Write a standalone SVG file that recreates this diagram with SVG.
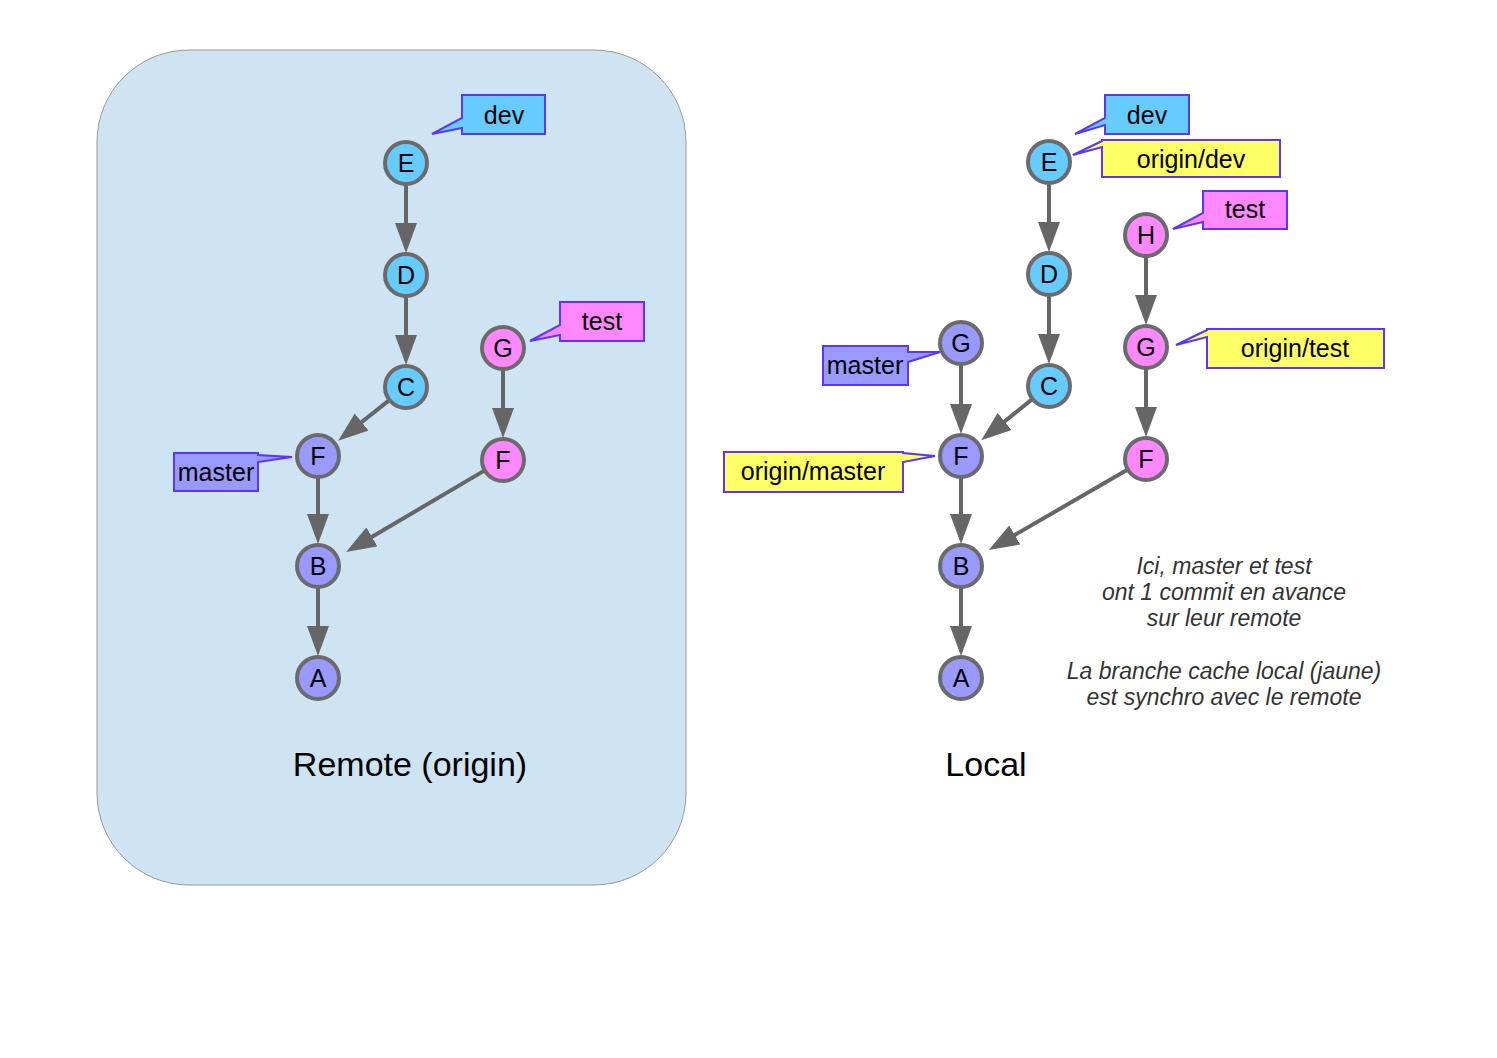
<svg xmlns="http://www.w3.org/2000/svg" width="1497" height="1058" viewBox="0 0 1497 1058">
<style>
.n circle{stroke:#6b6b6b;stroke-width:4}
.b{fill:#66ccff}.p{fill:#9999ff}.k{fill:#ff88ff}.y{fill:#ffff66}
.n text{font-family:"Liberation Sans",Arial,sans-serif;font-size:25px;text-anchor:middle;fill:#000}
.lb path{stroke:#5a36ff;stroke-width:2;stroke-linejoin:miter}
.lb text{font-family:"Liberation Sans",Arial,sans-serif;font-size:25px;text-anchor:middle;fill:#000}
.e line{stroke:#666;stroke-width:4;marker-end:url(#ah)}
.t{font-family:"Liberation Sans",Arial,sans-serif;font-size:34px;text-anchor:middle;fill:#000}
.note{font-family:"Liberation Sans",Arial,sans-serif;font-size:23px;font-style:italic;text-anchor:middle;fill:#333}
</style>
<defs>
<marker id="ah" markerUnits="userSpaceOnUse" markerWidth="30" markerHeight="22" refX="20" refY="11" orient="auto" viewBox="0 0 30 22">
<path d="M0,0 L30,11 L0,22 z" fill="#666"/>
</marker>
</defs>
<rect id="remote-panel" x="97" y="50" width="589" height="835" rx="92" ry="92" fill="#cfe4f3" stroke="#999" stroke-width="1"/>
<g id="connectors" class="e">
<line x1="406" y1="185" x2="406" y2="243"/>
<line x1="406" y1="297" x2="406" y2="355"/>
<line x1="388.7" y1="400.6" x2="346" y2="434.5"/>
<line x1="318" y1="478" x2="318" y2="534"/>
<line x1="318" y1="588" x2="318" y2="646"/>
<line x1="503" y1="370" x2="503" y2="428"/>
<line x1="483.9" y1="470.9" x2="354.7" y2="547"/>
<line x1="1049" y1="184" x2="1049" y2="242"/>
<line x1="1049" y1="296" x2="1049" y2="354"/>
<line x1="1031.7" y1="399.6" x2="989" y2="434"/>
<line x1="961" y1="365" x2="961" y2="424"/>
<line x1="961" y1="478" x2="961" y2="534"/>
<line x1="961" y1="588" x2="961" y2="646"/>
<line x1="1146" y1="257" x2="1146" y2="315"/>
<line x1="1146" y1="369" x2="1146" y2="427"/>
<line x1="1126.9" y1="470" x2="997.4" y2="545"/>
</g>
<g id="r-E" class="n"><circle class="b" cx="406" cy="163" r="21"/><text x="406" y="172">E</text></g>
<g id="r-D" class="n"><circle class="b" cx="406" cy="275" r="21"/><text x="406" y="284">D</text></g>
<g id="r-C" class="n"><circle class="b" cx="406" cy="387" r="21"/><text x="406" y="396">C</text></g>
<g id="r-F" class="n"><circle class="p" cx="318" cy="456" r="21"/><text x="318" y="465">F</text></g>
<g id="r-B" class="n"><circle class="p" cx="318" cy="566" r="21"/><text x="318" y="575">B</text></g>
<g id="r-A" class="n"><circle class="p" cx="318" cy="678" r="21"/><text x="318" y="687">A</text></g>
<g id="r-G2" class="n"><circle class="k" cx="503" cy="348" r="21"/><text x="503" y="357">G</text></g>
<g id="r-F2" class="n"><circle class="k" cx="503" cy="460" r="21"/><text x="503" y="469">F</text></g>
<g id="l-E" class="n"><circle class="b" cx="1049" cy="162" r="21"/><text x="1049" y="171">E</text></g>
<g id="l-D" class="n"><circle class="b" cx="1049" cy="274" r="21"/><text x="1049" y="283">D</text></g>
<g id="l-C" class="n"><circle class="b" cx="1049" cy="386" r="21"/><text x="1049" y="395">C</text></g>
<g id="l-G" class="n"><circle class="p" cx="961" cy="343" r="21"/><text x="961" y="352">G</text></g>
<g id="l-F" class="n"><circle class="p" cx="961" cy="456" r="21"/><text x="961" y="465">F</text></g>
<g id="l-B" class="n"><circle class="p" cx="961" cy="566" r="21"/><text x="961" y="575">B</text></g>
<g id="l-A" class="n"><circle class="p" cx="961" cy="678" r="21"/><text x="961" y="687">A</text></g>
<g id="l-H" class="n"><circle class="k" cx="1146" cy="235" r="21"/><text x="1146" y="244">H</text></g>
<g id="l-G2" class="n"><circle class="k" cx="1146" cy="347" r="21"/><text x="1146" y="356">G</text></g>
<g id="l-F2" class="n"><circle class="k" cx="1146" cy="459" r="21"/><text x="1146" y="468">F</text></g>
<g id="lbl-r-dev" class="lb"><path class="b" d="M462,95 H545 V134 H462 V128 L432,134 L462,118 Z"/><text x="504" y="124">dev</text></g>
<g id="lbl-r-test" class="lb"><path class="k" d="M560,302 H644 V341 H560 V335 L530,341 L560,325 Z"/><text x="602" y="330">test</text></g>
<g id="lbl-r-master" class="lb"><path class="p" d="M174,453 H258 V455 L292,457 L258,462 V491 H174 Z"/><text x="216" y="481">master</text></g>
<g id="lbl-l-dev" class="lb"><path class="b" d="M1105,95 H1189 V134 H1105 V125 L1075,134 L1105,118 Z"/><text x="1147" y="124">dev</text></g>
<g id="lbl-l-origindev" class="lb"><path class="y" d="M1102,140 H1280 V177 H1102 V147 L1073,155 L1102,141 Z"/><text x="1191" y="168">origin/dev</text></g>
<g id="lbl-l-test" class="lb"><path class="k" d="M1203,191 H1287 V229 H1203 V222 L1173,229 L1203,213 Z"/><text x="1245" y="218">test</text></g>
<g id="lbl-l-origintest" class="lb"><path class="y" d="M1207,329 H1384 V368 H1207 V337 L1176,345 L1207,330 Z"/><text x="1295" y="357">origin/test</text></g>
<g id="lbl-l-master" class="lb"><path class="p" d="M823,346 H908 V352 L940,352 L908,362 V385 H823 Z"/><text x="865" y="374">master</text></g>
<g id="lbl-l-originmaster" class="lb"><path class="y" d="M724,452 H903 V453 L935,456 L903,462 V492 H724 Z"/><text x="813" y="480">origin/master</text></g>
<text class="t" x="410" y="776">Remote (origin)</text>
<text class="t" x="986" y="776">Local</text>
<g class="note">
<text x="1224" y="574">Ici, master et test</text>
<text x="1224" y="600">ont 1 commit en avance</text>
<text x="1224" y="626">sur leur remote</text>
<text x="1224" y="679">La branche cache local (jaune)</text>
<text x="1224" y="705">est synchro avec le remote</text>
</g>
</svg>
